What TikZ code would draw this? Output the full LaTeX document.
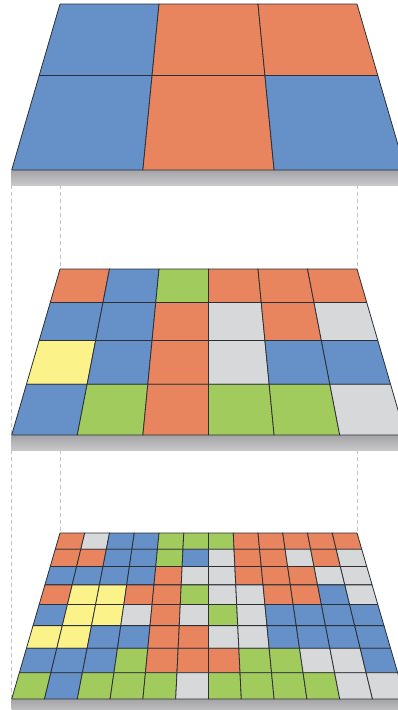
\documentclass[tikz,border=0pt]{standalone}
\usepackage{xcolor}
\usepackage{tikz}
\definecolor{tileB}{HTML}{6590C8}
\definecolor{tileO}{HTML}{E8845E}
\definecolor{tileG}{HTML}{A2CB5E}
\definecolor{tileS}{HTML}{D6D8DA}
\definecolor{tileY}{HTML}{FCF28A}
\definecolor{slabtop}{HTML}{A4A4A7}
\definecolor{slabbot}{HTML}{C8C8CA}
\definecolor{gridink}{HTML}{2B2F36}
\definecolor{guidegrey}{HTML}{C4C4C4}
\tikzset{declare function={dep(\t)=\t*1.32/(1+0.32*\t);
  xat(\u,\t)=11.7+48.3*dep(\t)+\u*(393.6-96.6*dep(\t));},
  tile/.style={draw=gridink,line width=0.8pt,line join=round},
  slab/.style={top color=slabtop,bottom color=slabbot,draw=none},
  guide/.style={draw=guidegrey,line width=0.7pt,dash pattern=on 4pt off 3pt}}
\newcommand{\tilelayer}[4]{%
  \fill[slab] (11.7,#1+166) rectangle (405.3,#1+181);
  \foreach \cells [count=\r] in {#4} {
    \foreach \c [count=\j] in \cells {
      \pgfmathsetmacro\ta{1-(\r-1)/#2}
      \pgfmathsetmacro\tb{1-\r/#2}
      \pgfmathsetmacro\ya{#1+166*(1-dep(\ta))}
      \pgfmathsetmacro\yb{#1+166*(1-dep(\tb))}
      \pgfmathsetmacro\xa{xat((\j-1)/#3,\ta)}
      \pgfmathsetmacro\xb{xat(\j/#3,\ta)}
      \pgfmathsetmacro\xc{xat(\j/#3,\tb)}
      \pgfmathsetmacro\xd{xat((\j-1)/#3,\tb)}
      \draw[tile,fill=tile\c] (\xa,\ya) -- (\xb,\ya) -- (\xc,\yb) -- (\xd,\yb) -- cycle;
    }
  }}

\begin{document}
\begin{tikzpicture}[x=1pt,y=-1pt]
 \useasboundingbox (0,0) rectangle (398,710);
 \fill[white] (0,0) rectangle (398,710);
 % guides between the layers
 \foreach \top/\low in {4/269,269/533} {
  \coordinate (nl) at (11.7,\top+181);
  \coordinate (fl) at (60,\top+181);
  \coordinate (fr) at (357,\top+181);
  \draw[guide] (nl) -- (11.7,\low+166);
  \draw[guide] (fl) -- (60,\low);
  \draw[guide] (fr) -- (357,\low);
 }
 \tilelayer{4}{2}{3}{{B,O,O},{B,O,B}}
 \tilelayer{269}{4}{6}{{O,B,G,O,O,O},{B,B,O,S,O,S},{Y,B,O,S,B,B},{B,G,O,G,G,S}}
 \tilelayer{533}{8}{12}{{O,S,B,B,G,G,G,O,O,O,O,O},{O,O,B,B,G,B,S,O,O,S,O,S},
  {B,B,B,B,O,S,S,O,O,O,S,S},{O,Y,Y,O,O,G,S,S,O,O,B,S},
  {B,Y,Y,S,O,S,G,S,B,B,B,B},{Y,Y,B,B,O,O,S,S,B,B,B,B},
  {B,B,B,G,O,O,O,G,G,S,S,B},{G,B,G,G,G,S,G,G,G,G,S,S}}
\end{tikzpicture}
\end{document}
